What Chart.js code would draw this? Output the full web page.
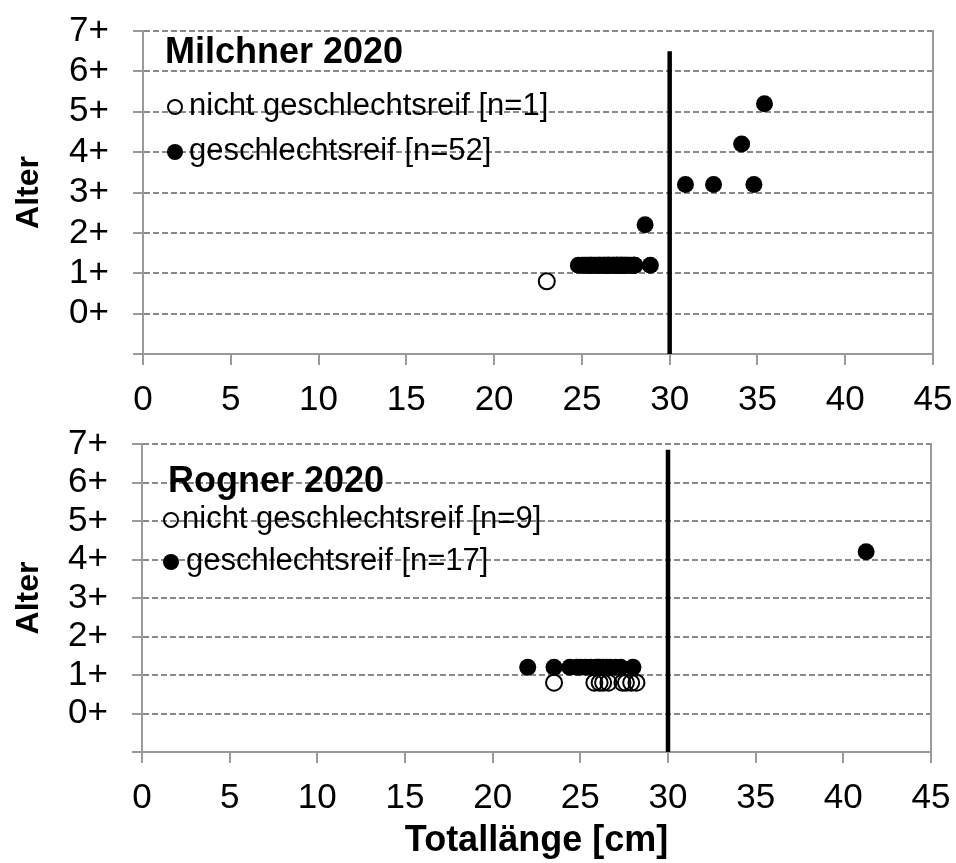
<!DOCTYPE html>
<html><head><meta charset="utf-8">
<script src="https://cdn.jsdelivr.net/npm/chart.js@4/dist/chart.umd.min.js"></script>
<style>html,body{margin:0;padding:0;background:#fff}canvas{display:block}</style>
</head><body>
<canvas id="c1" width="956" height="425"></canvas>
<canvas id="c2" width="956" height="438"></canvas>
<script>
// ---------- data ----------
const ageTickLabels = ['0+','1+','2+','3+','4+','5+','6+','7+'];
const xTicks = [0,5,10,15,20,25,30,35,40,45];
const minLengthCm = 30;            // vertical reference line (Totallänge)
const matureOffset = 0.2;          // mature points drawn slightly above the age line
const immatureOffset = -0.2;       // immature points slightly below

// Milchner 2020
const milchnerImmLen = [23.0];
const milchnerImmAge = [1];
const milchnerMatLen = [24.8,25.0,25.1,25.3,25.4,25.5,25.6,25.7,25.8,25.9,26.0,26.1,26.2,26.3,26.4,26.5,26.5,26.6,26.7,26.8,26.9,27.0,27.0,27.1,27.2,27.3,27.4,27.5,27.5,27.6,27.7,27.8,27.9,28.0,27.2,26.3,25.2,28.0,26.0,26.5,27.0,25.5,26.8,27.3,28.0,28.9,
                        28.6,30.9,32.5,34.8,34.1,35.4];
const milchnerMatAge = [1,1,1,1,1,1,1,1,1,1,1,1,1,1,1,1,1,1,1,1,1,1,1,1,1,1,1,1,1,1,1,1,1,1,1,1,1,1,1,1,1,1,1,1,1,1,
                        2,3,3,3,4,5];
const milchnerLineTop = 6.5;

// Rogner 2020
const rognerImmLen = [23.5,25.8,26.1,26.3,26.6,27.4,27.6,27.9,28.2];
const rognerImmAge = [1,1,1,1,1,1,1,1,1];
const rognerMatLen = [22.0,23.5,24.4,24.8,25.0,25.3,25.6,25.9,26.0,26.1,26.3,26.5,26.7,27.0,27.3,28.0,41.3];
const rognerMatAge = [1,1,1,1,1,1,1,1,1,1,1,1,1,1,1,1,4];
const rognerLineTop = 6.85;

// ---------- styling ----------
const FONT = '"Liberation Sans", Arial, sans-serif';
const AXIS_GREY = '#9a9a9a';
const GRID_GREY = '#8a8a8a';

const panelLegend = {
  id: 'panelLegend',
  afterDraw(chart, args, o) {
    if (!o || !o.title) return;
    const ctx = chart.ctx, a = chart.chartArea;
    ctx.save();
    ctx.fillStyle = '#000';
    ctx.textBaseline = 'alphabetic';
    ctx.textAlign = 'left';
    ctx.font = `bold ${o.titleSize}px ${FONT}`;
    ctx.fillText(o.title, a.left + o.titleX, a.top + o.titleY);
    ctx.font = `${o.itemSize}px ${FONT}`;
    o.items.forEach(it => {
      ctx.beginPath();
      ctx.arc(a.left + it.mx, a.top + it.my, it.filled ? 8 : 7, 0, Math.PI * 2);
      if (it.filled) { ctx.fillStyle = '#000'; ctx.fill(); }
      else { ctx.lineWidth = 2; ctx.strokeStyle = '#000'; ctx.stroke(); }
      ctx.fillStyle = '#000';
      ctx.fillText(it.text, a.left + it.tx, a.top + it.ty);
    });
    ctx.restore();
  }
};

function pts(len, age, off) { return len.map((l, i) => ({x: l, y: age[i] + off})); }

function makeConfig(p) {
  return {
    type: 'scatter',
    data: {
      datasets: [
        { label: 'nicht geschlechtsreif', data: pts(p.immLen, p.immAge, immatureOffset), order: 0,
          pointRadius: 8, pointBorderWidth: 2, pointBackgroundColor: 'rgba(255,255,255,0)', pointBorderColor: '#000' },
        { label: 'geschlechtsreif', data: pts(p.matLen, p.matAge, matureOffset), order: 1,
          pointRadius: 8.5, pointBorderWidth: 0, pointBackgroundColor: '#000', pointBorderColor: '#000' },
        { type: 'line', label: 'Mindestmaß', data: [{x: minLengthCm, y: -1}, {x: minLengthCm, y: p.lineTop}], order: 2,
          borderColor: '#000', borderWidth: 4.5, pointRadius: 0, showLine: true, fill: false }
      ]
    },
    options: {
      responsive: false, animation: false, devicePixelRatio: 1,
      layout: { padding: { top: p.dims.top, right: p.dims.right, left: 0, bottom: 0 } },
      plugins: { legend: { display: false }, tooltip: { enabled: false }, panelLegend: p.legend },
      scales: {
        x: {
          type: 'linear', position: 'bottom', min: 0, max: 45,
          afterBuildTicks: s => { s.ticks = xTicks.map(v => ({value: v})); },
          ticks: { color: '#000', font: { family: FONT, size: 35 }, padding: 14, maxRotation: 0, autoSkip: false },
          grid: { drawOnChartArea: false, tickLength: 11, tickColor: AXIS_GREY, lineWidth: 2 },
          border: { color: AXIS_GREY, width: 2 },
          title: { display: !!p.xTitle, text: p.xTitle || '', color: '#000', font: { family: FONT, size: 36, weight: 'bold' }, padding: { top: 0, bottom: 0 } },
          afterFit: s => { s.height = p.dims.bottomH; s.paddingLeft = 0; s.paddingRight = 0; }
        },
        y: {
          type: 'linear', position: 'left', min: -1, max: 7,
          afterBuildTicks: s => { s.ticks = [-1,0,1,2,3,4,5,6,7].map(v => ({value: v})); },
          ticks: { color: '#000', font: { family: FONT, size: 35 }, padding: 24, autoSkip: false,
                   callback: v => (v >= 0 ? ageTickLabels[v] : '') },
          grid: { color: GRID_GREY, lineWidth: 2, tickLength: 10, tickColor: AXIS_GREY, tickBorderDash: [] },
          border: { color: AXIS_GREY, width: 2, dash: [6, 3] },
          title: { display: true, text: 'Alter', color: '#000', font: { family: FONT, size: 32, weight: 'bold' }, padding: { top: 10, bottom: 0 } },
          afterFit: s => { s.width = p.dims.left; s.paddingTop = 0; s.paddingBottom = 0; }
        },
        yR: {
          type: 'linear', position: 'right', min: -1, max: 7,
          ticks: { display: false }, grid: { display: false, drawTicks: false },
          border: { display: true, color: AXIS_GREY, width: 2 },
          afterFit: s => { s.width = 0; s.paddingTop = 0; s.paddingBottom = 0; }
        }
      }
    },
    plugins: [panelLegend]
  };
}

new Chart(document.getElementById('c1'), makeConfig({
  immLen: milchnerImmLen, immAge: milchnerImmAge, matLen: milchnerMatLen, matAge: milchnerMatAge,
  lineTop: milchnerLineTop,
  dims: { top: 31, right: 23, left: 143, bottomH: 71 },
  legend: { title: 'Milchner 2020', titleSize: 36, titleX: 22, titleY: 32, itemSize: 31,
    items: [
      { filled: false, text: 'nicht geschlechtsreif [n=1]', mx: 32, my: 76, tx: 46, ty: 84 },
      { filled: true,  text: 'geschlechtsreif [n=52]',      mx: 32, my: 121, tx: 46, ty: 129 }
    ] }
}));

new Chart(document.getElementById('c2'), makeConfig({
  immLen: rognerImmLen, immAge: rognerImmAge, matLen: rognerMatLen, matAge: rognerMatAge,
  lineTop: rognerLineTop, xTitle: 'Totallänge [cm]',
  dims: { top: 19, right: 25, left: 142, bottomH: 111 },
  legend: { title: 'Rogner 2020', titleSize: 36, titleX: 26, titleY: 48, itemSize: 31,
    items: [
      { filled: false, text: 'nicht geschlechtsreif [n=9]', mx: 29, my: 76, tx: 40, ty: 84 },
      { filled: true,  text: 'geschlechtsreif [n=17]',      mx: 29, my: 118, tx: 44, ty: 126 }
    ] }
}));
</script>
</body></html>
